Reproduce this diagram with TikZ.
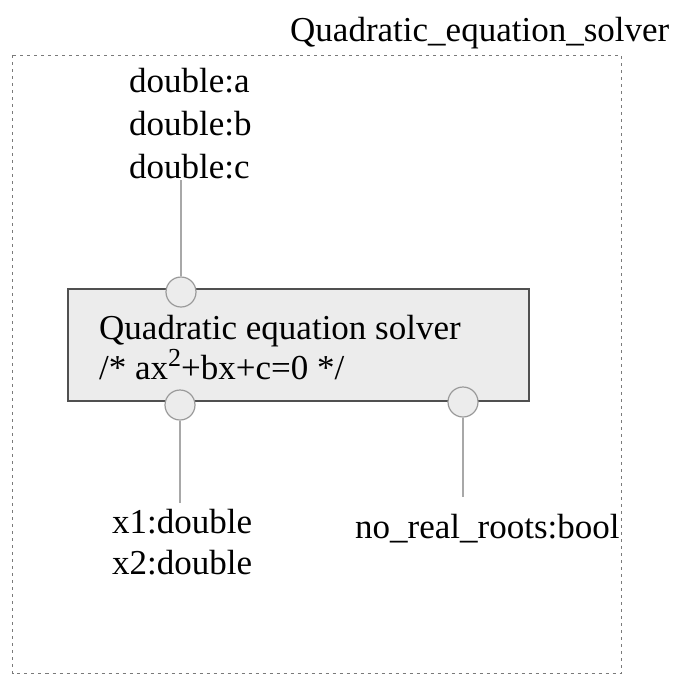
\documentclass[tikz,border=0pt]{standalone}
\usepackage{fontspec}
\setmainfont{Liberation Serif}
\definecolor{boxfill}{HTML}{ECECEC}
\definecolor{boxline}{HTML}{505050}
\definecolor{portline}{HTML}{9A9A9A}
\definecolor{connline}{HTML}{A8A8A8}
\definecolor{frameline}{HTML}{7A7A7A}
\begin{document}
\begin{tikzpicture}[x=1pt,y=-1pt,
  lbl/.style={inner sep=0pt,anchor=base west,font=\fontsize{35}{42}\selectfont},
  blockbox/.style={draw=boxline,line width=2pt,fill=boxfill,inner sep=0pt},
  port/.style={circle,draw=portline,line width=1.2pt,fill=boxfill,minimum size=30pt,inner sep=0pt},
  conn/.style={draw=connline,line width=1.2pt},
  frame/.style={draw=frameline,line width=1pt,dash pattern=on 3pt off 4pt}]
\useasboundingbox (0,0) rectangle (682,675);
% outer frame
\draw[frame] (12.5,55) rectangle (621,673);
\node[lbl] (title) at (290,41) {Quadratic\_equation\_solver};
% inputs
\node[lbl] (ina) at (129,92) {double:a};
\node[lbl] (inb) at (129,135) {double:b};
\node[lbl] (inc) at (129,178) {double:c};
% block
\node[blockbox,minimum width=461pt,minimum height=112pt] (blk) at (298.5,345) {};
\node[lbl] (t1) at (99,339) {\renewcommand{\arraystretch}{0.84}\begin{tabular}[t]{@{}l@{}}Quadratic equation solver\\/* ax\raisebox{0.36em}{\fontsize{26}{28}\selectfont 2}+bx+c=0 */\end{tabular}};
% ports
\node[port] (pin) at (181,292) {};
\node[port] (pout1) at (180,405) {};
\node[port] (pout2) at (463,402) {};
% connectors
\coordinate (cin) at (181,180);
\coordinate (cout1) at (180,503);
\coordinate (cout2) at (463,497);
\draw[conn] (cin) -- (pin);
\draw[conn] (pout1) -- (cout1);
\draw[conn] (pout2) -- (cout2);
% outputs
\node[lbl] (o1) at (112,533) {x1:double};
\node[lbl] (o2) at (112,574) {x2:double};
\begin{scope}
\clip (0,0) rectangle (621,675);
\node[lbl] (o3) at (355,538) {no\_real\_roots:bool};
\end{scope}
\end{tikzpicture}
\end{document}
